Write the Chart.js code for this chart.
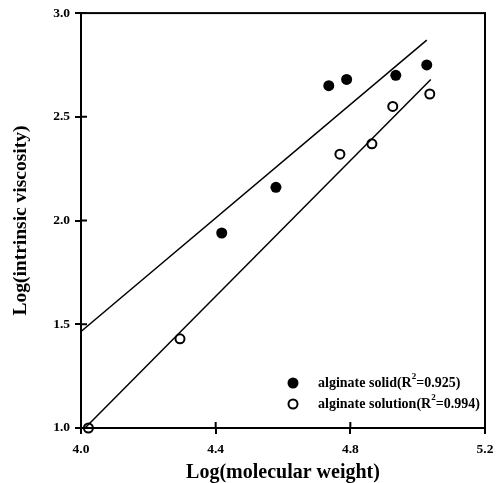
<!DOCTYPE html>
<html><head><meta charset="utf-8">
<script src="https://cdn.jsdelivr.net/npm/chart.js@4"></script>
<style>html,body{margin:0;padding:0;background:#fff}#wrap{width:501px;height:483px}</style>
</head><body><div id="wrap"><canvas id="c" width="501" height="483"></canvas></div>
<script>
const solidX = [4.418, 4.579, 4.736, 4.789, 4.935, 5.027];
const solidY = [1.94, 2.16, 2.65, 2.68, 2.70, 2.75];
const solutionX = [4.022, 4.294, 4.769, 4.864, 4.926, 5.036];
const solutionY = [1.00, 1.43, 2.32, 2.37, 2.55, 2.61];
const solidFitX = [4.0, 5.027];
const solidFitY = [1.465, 2.87];
const solutionFitX = [4.012, 5.039];
const solutionFitY = [1.0, 2.68];
const xTicks = [4.0, 4.4, 4.8, 5.2];
const yTicks = [1.0, 1.5, 2.0, 2.5, 3.0];
const legendNames = ['alginate solid', 'alginate solution'];
const legendR2 = ['0.925', '0.994'];
const xTitle = 'Log(molecular weight)';
const yTitle = 'Log(intrinsic viscosity)';

const pts = (xs, ys) => xs.map((x, i) => ({x: x, y: ys[i]}));
const SERIF = '"Liberation Serif", "DejaVu Serif", serif';

const framePlugin = {
  id: 'frame',
  afterDatasetsDraw(chart) {
    const {ctx, chartArea: a, scales} = chart;
    ctx.save();
    ctx.strokeStyle = '#000';
    ctx.lineWidth = 2;
    ctx.strokeRect(a.left, a.top, a.right - a.left, a.bottom - a.top);
    ctx.beginPath();
    yTicks.forEach(v => {
      const y = scales.y.getPixelForValue(v);
      ctx.moveTo(a.left, y); ctx.lineTo(a.left + 6, y);
    });
    xTicks.forEach(v => {
      const x = scales.x.getPixelForValue(v);
      ctx.moveTo(x, a.bottom); ctx.lineTo(x, a.bottom - 6);
    });
    ctx.stroke();
    // legend
    const sx = a.right - 192;
    const rows = [a.bottom - 45, a.bottom - 24];
    ctx.textBaseline = 'middle';
    ctx.fillStyle = '#000';
    rows.forEach((ry, i) => {
      ctx.beginPath();
      if (i === 0) {
        ctx.arc(sx, ry, 5.5, 0, Math.PI * 2);
        ctx.fill();
      } else {
        ctx.lineWidth = 2;
        ctx.arc(sx, ry, 4.5, 0, Math.PI * 2);
        ctx.stroke();
      }
      let tx = sx + 25;
      const big = 'bold 14px ' + SERIF, small = 'bold 9px ' + SERIF;
      const p1 = legendNames[i] + '(R';
      ctx.font = big; ctx.fillText(p1, tx, ry); tx += ctx.measureText(p1).width;
      ctx.font = small; ctx.fillText('2', tx, ry - 6); tx += ctx.measureText('2').width;
      const p2 = '=' + legendR2[i] + ')';
      ctx.font = big; ctx.fillText(p2, tx, ry);
    });
    ctx.restore();
  }
};

new Chart(document.getElementById('c'), {
  type: 'scatter',
  data: {
    datasets: [
      {label: 'solid fit', type: 'line', data: pts(solidFitX, solidFitY), borderColor: '#000', borderWidth: 1.5, pointRadius: 0, fill: false, clip: false},
      {label: 'solution fit', type: 'line', data: pts(solutionFitX, solutionFitY), borderColor: '#000', borderWidth: 1.5, pointRadius: 0, fill: false, clip: false},
      {label: legendNames[0], data: pts(solidX, solidY), backgroundColor: '#000', borderColor: '#000', pointRadius: 5.5, borderWidth: 0, clip: false},
      {label: legendNames[1], data: pts(solutionX, solutionY), backgroundColor: '#fff', borderColor: '#000', pointRadius: 4.5, borderWidth: 2, clip: false}
    ]
  },
  options: {
    responsive: false,
    animation: false,
    devicePixelRatio: 1,
    layout: {padding: {left: 0, top: 13, right: 16, bottom: 0}},
    plugins: {legend: {display: false}, tooltip: {enabled: false}},
    scales: {
      x: {
        type: 'linear', min: 4.0, max: 5.2,
        afterBuildTicks: s => { s.ticks = xTicks.map(v => ({value: v})); },
        afterFit: s => { s.height = 55; },
        ticks: {callback: v => v.toFixed(1), color: '#000', font: {family: SERIF, weight: 'bold', size: 13.5}, padding: 7, maxRotation: 0},
        grid: {drawOnChartArea: false, tickLength: 6, color: '#000', lineWidth: 2},
        border: {display: false},
        title: {display: true, text: xTitle, color: '#000', font: {family: SERIF, weight: 'bold', size: 20, lineHeight: 1}, padding: {top: 0, bottom: 0}}
      },
      y: {
        type: 'linear', min: 1.0, max: 3.0,
        afterBuildTicks: s => { s.ticks = yTicks.map(v => ({value: v})); },
        afterFit: s => { s.width = 81; },
        ticks: {callback: v => v.toFixed(1), color: '#000', font: {family: SERIF, weight: 'bold', size: 13.5}, padding: 5},
        grid: {drawOnChartArea: false, tickLength: 6, color: '#000', lineWidth: 2},
        border: {display: false},
        title: {display: true, text: yTitle, color: '#000', font: {family: SERIF, weight: 'bold', size: 19.5, lineHeight: 1}, padding: {top: 11, bottom: 0}}
      }
    }
  },
  plugins: [framePlugin]
});
</script></body></html>
